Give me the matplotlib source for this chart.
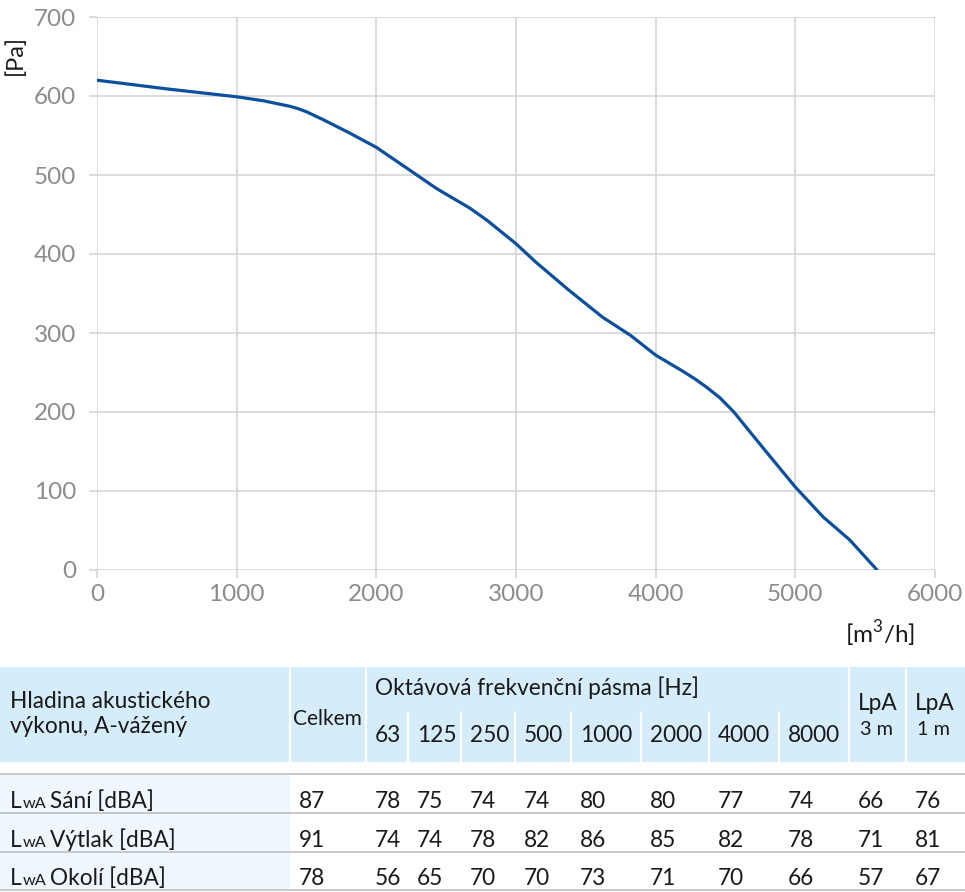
import numpy as np
import matplotlib
matplotlib.use("Agg")
from matplotlib import pyplot as plt
from matplotlib.patches import Rectangle

plt.rcParams['font.family'] = ['Lato', 'DejaVu Sans']
plt.rcParams['mathtext.fontset'] = 'custom'
plt.rcParams['mathtext.rm'] = 'Lato'

# -- CURVE --
flow = [0, 500, 1000, 1190, 1380, 1440, 1500, 1560, 1620, 1810, 2000, 2290,
        2430, 2670, 2790, 3000, 3140, 3380, 3620, 3820, 4000, 4200, 4280,
        4360, 4460, 4560, 4670, 4790, 5000, 5200, 5390, 5585]
pressure = [620, 609, 599, 594, 587, 584, 580, 575, 570, 553, 535, 500,
            483, 458, 443, 413, 390, 354, 320, 297, 272, 251, 242,
            232, 218, 200, 176, 150, 105, 67, 38, 0]

x_ticks = [0, 1000, 2000, 3000, 4000, 5000, 6000]
y_ticks = [0, 100, 200, 300, 400, 500, 600, 700]

# -- TABLE --
band_labels = ["63", "125", "250", "500", "1000", "2000", "4000", "8000"]
row_labels = ["Sání [dBA]", "Výtlak [dBA]", "Okolí [dBA]"]
celkem = [87, 91, 78]
bands = [
    [78, 75, 74, 74, 80, 80, 77, 74],
    [74, 74, 78, 82, 86, 85, 82, 78],
    [56, 65, 70, 70, 73, 71, 70, 66],
]
lpa_3m = [66, 71, 57]
lpa_1m = [76, 81, 67]

W, H = 965, 892
fig = plt.figure(figsize=(W / 100, H / 100), dpi=100)

# table / free text layer in pixel coords
tb = fig.add_axes([0, 0, 1, 1])
tb.set_xlim(0, W)
tb.set_ylim(H, 0)
tb.axis('off')

# chart
ax = fig.add_axes([97 / W, 1 - 570 / H, 838 / W, 553 / H])
ax.plot(flow, pressure, color='#0b4f9f', lw=2.3, solid_capstyle='round',
        solid_joinstyle='round', zorder=3)
ax.set_xlim(0, 6000)
ax.set_ylim(0, 700)
ax.set_xticks(x_ticks)
ax.set_yticks(y_ticks)
ax.grid(color='#d2d2d2', lw=1.1)
for s in ax.spines.values():
    s.set_visible(False)
ax.tick_params(length=6, width=1.1, color='#d2d2d2', labelcolor='#8c8c8c',
               labelsize=17.5)
ax.tick_params(axis='y', pad=9)
ax.tick_params(axis='x', pad=4)
ax.patch.set_alpha(0)

tb.text(15, 55, "[Pa]", rotation=90, ha='center', va='center', fontsize=17,
        color='#1a1a1a')
tb.text(880, 643, r"[m$^3$/h]", ha='center', va='baseline', fontsize=17.5,
        color='#1a1a1a')

# column edges (pixels)
edges = [0, 290, 366, 408, 461, 515, 571, 641, 709, 779, 849, 906, 965]
head_top, head_mid, head_bot = 667, 713, 762
row_lines = [774, 813, 852, 890]
header_bg = '#d5edfa'
first_bg = '#eef7fd'
txt = '#1a1a1a'
fs = 16.3

tb.add_patch(Rectangle((0, head_top), W, head_bot - head_top, color=header_bg, lw=0))
tb.add_patch(Rectangle((0, row_lines[0]), edges[1], row_lines[-1] - row_lines[0],
                       color=first_bg, lw=0))
for i, x in enumerate(edges[1:-1], start=1):
    top = head_mid if 3 <= i <= 9 else head_top
    tb.plot([x, x], [top, head_bot], color='white', lw=1.6)
for y in row_lines:
    tb.plot([0, W], [y, y], color='#c4c4c4', lw=1.3)

tb.text(10, 708, "Hladina akustického", fontsize=fs, color=txt, va='baseline')
tb.text(10, 733, "výkonu, A-vážený", fontsize=fs, color=txt, va='baseline')
tb.text(edges[1] + 3, 725, "Celkem", fontsize=fs - 1.3, color=txt, va='baseline')
tb.text(edges[2] + 9, 695, "Oktávová frekvenční pásma [Hz]", fontsize=fs,
        color=txt, va='baseline')
for j, lab in enumerate(band_labels):
    tb.text(edges[2 + j] + 9, 742, lab, fontsize=fs, color=txt, va='baseline')
for k, dist in enumerate(["3 m", "1 m"]):
    x0 = edges[10 + k] + 9
    tb.text(x0, 710, "LpA", fontsize=fs, color=txt, va='baseline')
    tb.text(x0 + 2, 735, dist, fontsize=fs * 0.88, color=txt, va='baseline')

renderer = fig.canvas.get_renderer()
baselines = [808, 847, 885]
for r, lab in enumerate(row_labels):
    yb = baselines[r]
    t1 = tb.text(10, yb, "L", fontsize=fs, color=txt, va='baseline')
    bb = t1.get_window_extent(renderer=renderer)
    t2 = tb.text(bb.x1 + 1, yb, "wA", fontsize=fs * 0.72, color=txt, va='baseline')
    bb2 = t2.get_window_extent(renderer=renderer)
    tb.text(bb2.x1 + 4, yb, lab, fontsize=fs, color=txt, va='baseline')
    vals = [celkem[r]] + bands[r] + [lpa_3m[r], lpa_1m[r]]
    for c, v in enumerate(vals):
        tb.text(edges[1 + c] + 9, yb, str(v), fontsize=fs, color=txt, va='baseline')

fig.savefig("out.png", dpi=100)
